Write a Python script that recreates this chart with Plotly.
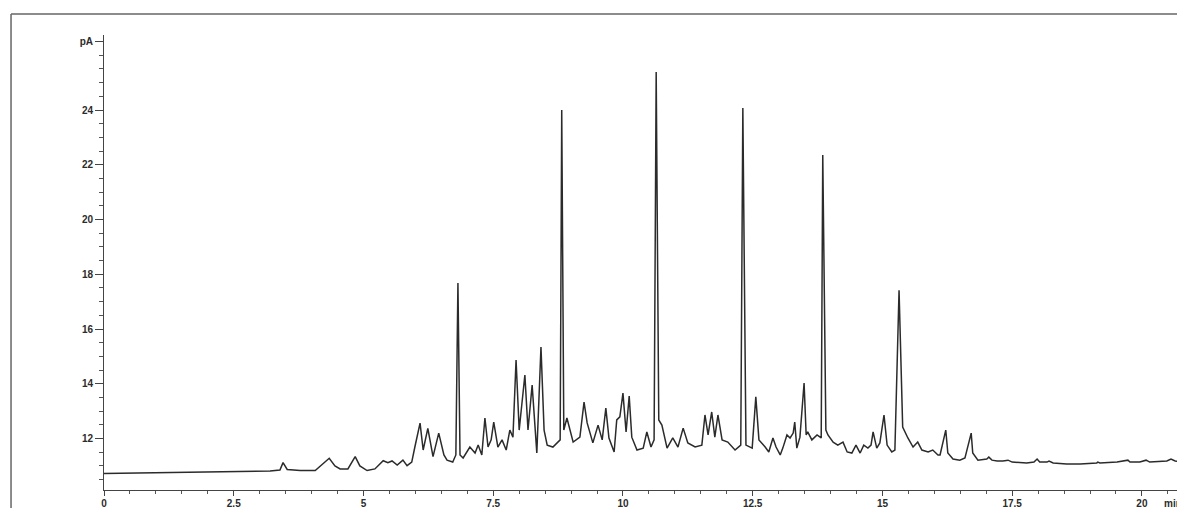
import plotly.graph_objects as go

# Retention time (min) and detector signal (pA)
time_min = [
    0.00, 1.85, 3.20, 3.39, 3.45, 3.53, 3.78, 4.07, 4.20, 4.34,
    4.45, 4.55, 4.70, 4.84, 4.93, 5.07, 5.22, 5.38, 5.47, 5.55,
    5.65, 5.76, 5.84, 5.93, 5.99, 6.09, 6.15, 6.24, 6.34, 6.45,
    6.55, 6.61, 6.72, 6.78, 6.82, 6.86, 6.92, 7.05, 7.15, 7.21,
    7.28, 7.34, 7.40, 7.46, 7.51, 7.59, 7.67, 7.75, 7.82, 7.88,
    7.94, 8.00, 8.03, 8.07, 8.11, 8.17, 8.25, 8.34, 8.42, 8.48,
    8.54, 8.65, 8.73, 8.79, 8.82, 8.86, 8.92, 8.98, 9.04, 9.17,
    9.25, 9.31, 9.42, 9.52, 9.60, 9.67, 9.73, 9.83, 9.88, 9.94,
    10.00, 10.06, 10.12, 10.17, 10.27, 10.39, 10.46, 10.54, 10.60, 10.64,
    10.69, 10.75, 10.85, 10.96, 11.06, 11.16, 11.25, 11.39, 11.52, 11.58,
    11.64, 11.71, 11.77, 11.83, 11.91, 12.02, 12.16, 12.27, 12.31, 12.37,
    12.49, 12.56, 12.62, 12.74, 12.81, 12.89, 12.95, 13.03, 13.08, 13.16,
    13.22, 13.28, 13.31, 13.35, 13.41, 13.49, 13.53, 13.56, 13.64, 13.74,
    13.82, 13.85, 13.91, 13.95, 14.05, 14.14, 14.24, 14.32, 14.41, 14.49,
    14.57, 14.64, 14.72, 14.78, 14.82, 14.89, 14.95, 15.03, 15.09, 15.18,
    15.24, 15.32, 15.39, 15.49, 15.59, 15.68, 15.76, 15.88, 15.97, 16.07,
    16.11, 16.22, 16.26, 16.36, 16.49, 16.59, 16.71, 16.74, 16.84, 17.01,
    17.05, 17.11, 17.21, 17.32, 17.42, 17.50, 17.78, 17.92, 17.98, 18.03,
    18.17, 18.21, 18.29, 18.55, 18.81, 19.13, 19.15, 19.19, 19.52, 19.73,
    19.77, 19.96, 20.08, 20.15, 20.48, 20.56, 20.64, 20.83,
]

signal_pa = [
    10.72, 10.76, 10.81, 10.85, 11.12, 10.87, 10.83, 10.83, 11.03, 11.28,
    11.00, 10.89, 10.89, 11.34, 11.00, 10.83, 10.89, 11.19, 11.12, 11.18,
    11.03, 11.21, 11.01, 11.14, 11.69, 12.56, 11.58, 12.37, 11.34, 12.20,
    11.40, 11.21, 11.14, 11.40, 17.68, 11.40, 11.29, 11.69, 11.47, 11.76,
    11.40, 12.75, 11.69, 11.95, 12.60, 11.69, 11.95, 11.58, 12.31, 12.05,
    14.87, 12.31, 12.86, 13.66, 14.32, 12.31, 13.95, 11.47, 15.34, 12.31,
    11.76, 11.69, 11.84, 11.95, 24.00, 12.31, 12.75, 12.31, 11.87, 12.05,
    13.33, 12.57, 11.84, 12.49, 11.95, 13.11, 12.02, 11.51, 12.68, 12.79,
    13.66, 12.24, 13.55, 12.05, 11.58, 11.65, 12.24, 11.69, 11.95, 25.39,
    12.68, 12.49, 11.65, 12.02, 11.69, 12.38, 11.84, 11.69, 11.76, 12.86,
    12.13, 12.97, 12.05, 12.86, 11.95, 11.87, 11.58, 11.76, 24.07, 11.76,
    11.65, 13.52, 11.95, 11.69, 11.51, 12.02, 11.69, 11.40, 11.65, 12.13,
    12.02, 12.20, 12.60, 11.65, 12.05, 14.03, 12.13, 12.24, 11.95, 12.13,
    12.02, 22.36, 12.31, 12.13, 11.87, 11.76, 11.87, 11.51, 11.47, 11.76,
    11.47, 11.76, 11.65, 11.76, 12.24, 11.65, 11.84, 12.86, 11.76, 11.51,
    11.58, 17.42, 12.42, 12.02, 11.69, 11.87, 11.58, 11.51, 11.58, 11.40,
    11.40, 12.31, 11.47, 11.25, 11.21, 11.29, 12.20, 11.47, 11.21, 11.25,
    11.32, 11.21, 11.18, 11.18, 11.21, 11.14, 11.11, 11.14, 11.25, 11.14,
    11.14, 11.18, 11.11, 11.07, 11.07, 11.11, 11.14, 11.11, 11.14, 11.21,
    11.14, 11.14, 11.21, 11.14, 11.18, 11.25, 11.18, 11.14,
]

x_tick_vals = [0, 2.5, 5, 7.5, 10, 12.5, 15, 17.5, 20]
x_tick_text = ["0", "2.5", "5", "7.5", "10", "12.5", "15", "17.5", "20"]
y_tick_vals = [12, 14, 16, 18, 20, 22, 24, 26.5]
y_tick_text = ["12", "14", "16", "18", "20", "22", "24", "pA"]

INK = "#2b2b2b"
tick_font = dict(family="Liberation Sans, Arial, sans-serif", size=10, color=INK, weight="bold")

fig = go.Figure()
fig.add_trace(go.Scatter(
    x=time_min, y=signal_pa, mode="lines",
    line=dict(color=INK, width=1.5),
    hoverinfo="x+y", showlegend=False,
))

fig.update_layout(
    template="none",
    width=1177, height=500,
    margin=dict(l=96, r=0, t=27, b=18, autoexpand=False),
    paper_bgcolor="white", plot_bgcolor="white",
    xaxis=dict(
        range=[0, 20.83], showgrid=False, zeroline=False, automargin=False,
        showline=True, linecolor="#444", linewidth=1,
        tickmode="array", tickvals=x_tick_vals, ticktext=x_tick_text,
        ticks="outside", ticklen=5, tickcolor="#444", tickwidth=1,
        ticklabelstandoff=-1,
        tickfont=tick_font,
        minor=dict(tickmode="linear", tick0=0, dtick=0.5, ticks="outside",
                   ticklen=3, tickcolor="#555", tickwidth=1),
    ),
    yaxis=dict(
        range=[10.12, 26.74], showgrid=False, zeroline=False, automargin=False,
        showline=True, linecolor="#444", linewidth=1,
        tickmode="array", tickvals=y_tick_vals, ticktext=y_tick_text,
        ticks="outside", ticklen=8, tickcolor="#444", tickwidth=1,
        tickfont=tick_font,
        minor=dict(tickmode="linear", tick0=10, dtick=0.5, ticks="outside",
                   ticklen=4, tickcolor="#555", tickwidth=1),
    ),
    annotations=[
        dict(text="min", x=20.38, xref="x", y=-0.03, yref="paper",
             xanchor="left", yanchor="middle", showarrow=False, font=tick_font),
    ],
    shapes=[
        dict(type="line", xref="paper", yref="paper", x0=-0.086, x1=1.01,
             y0=1.046, y1=1.046, line=dict(color="#666", width=1.5)),
        dict(type="line", xref="paper", yref="paper", x0=-0.086, x1=-0.086,
             y0=1.046, y1=-0.05, line=dict(color="#666", width=1.5)),
    ],
)

fig.write_html("out.html")
